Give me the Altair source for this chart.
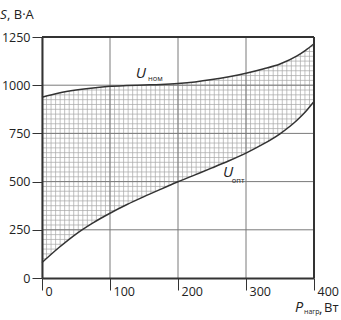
import altair as alt
import pandas as pd
import numpy as np

# ---- data ----
P_load = [0, 25, 50, 75, 100, 125, 150, 175, 200, 225, 250, 275, 300, 325, 350, 375, 387.5, 400]
U_nom = [938, 960, 975, 986, 994, 998, 1001, 1004, 1009, 1017, 1029, 1044, 1062, 1084, 1110, 1152, 1181, 1215]
U_opt = [80, 158, 228, 286, 336, 381, 422, 461, 499, 535, 571, 608, 648, 694, 748, 818, 862, 915]
x_ticks = [0, 100, 200, 300, 400]
y_ticks = [0, 250, 500, 750, 1000, 1250]

X_MAX, Y_MAX = 400, 1250
FONT = "Open Sans"
DARK = "#333333"

df = pd.DataFrame({"P": P_load, "nom": U_nom, "opt": U_opt})
df["top"] = Y_MAX
df["bottom"] = 0

xs = alt.Scale(domain=[0, X_MAX], nice=False, zero=False)
ys = alt.Scale(domain=[0, Y_MAX], nice=False, zero=False)

x_axis = alt.Axis(values=x_ticks, grid=False, title=None, tickSize=12, tickColor=DARK,
                  tickWidth=1, domainColor=DARK, domainWidth=2, labelAlign="left",
                  labelBaseline="top", labelOffset=3, labelPadding=-5, labelFlush=False,
                  labelOverlap=False, labelFont=FONT, labelFontSize=12.5, format="d",
                  labelColor="#222222", zindex=1)
y_axis = alt.Axis(values=y_ticks, grid=False, title=None, tickSize=10, tickColor=DARK,
                  tickWidth=1, domainColor=DARK, domainWidth=2, labelPadding=2,
                  labelFlush=False, labelOverlap=False, labelFont=FONT, format="d",
                  labelFontSize=12.5, labelColor="#222222", zindex=1)


def X(field):
    return alt.X(field, type="quantitative", scale=xs, axis=x_axis)


def Y(field):
    return alt.Y(field, type="quantitative", scale=ys, axis=y_axis)


# fine hatch grid (drawn everywhere, then masked outside the band)
vgrid = pd.DataFrame({"x": np.linspace(0, X_MAX, 61)})
vgrid["y0"] = 0
vgrid["y1"] = Y_MAX
hgrid = pd.DataFrame({"y": np.arange(0, Y_MAX + 1, 25)})
hgrid["x0"] = 0
hgrid["x1"] = X_MAX

HATCH = "#a6a6a6"
hatch_v = alt.Chart(vgrid).mark_rule(color=HATCH, strokeWidth=0.7).encode(
    x=X("x"), y=Y("y0"), y2="y1")
hatch_h = alt.Chart(hgrid).mark_rule(color=HATCH, strokeWidth=0.7).encode(
    y=Y("y"), x=X("x0"), x2="x1")

mask_top = alt.Chart(df).mark_area(color="white", interpolate="monotone", opacity=1).encode(
    x=X("P"), y=Y("nom"), y2="top")
mask_bot = alt.Chart(df).mark_area(color="white", interpolate="monotone", opacity=1).encode(
    x=X("P"), y=Y("bottom"), y2="opt")

# major grid
mgx = pd.DataFrame({"x": x_ticks[1:-1]})
mgx["y0"] = 0
mgx["y1"] = Y_MAX
mgy = pd.DataFrame({"y": y_ticks[1:-1]})
mgy["x0"] = 0
mgy["x1"] = X_MAX
major_v = alt.Chart(mgx).mark_rule(color="#7a7a7a", strokeWidth=1).encode(
    x=X("x"), y=Y("y0"), y2="y1")
major_h = alt.Chart(mgy).mark_rule(color="#7a7a7a", strokeWidth=1).encode(
    y=Y("y"), x=X("x0"), x2="x1")

# frame top / right
frame_top = alt.Chart(pd.DataFrame({"y": [Y_MAX], "x0": [0], "x1": [X_MAX]})).mark_rule(
    color=DARK, strokeWidth=2).encode(y=Y("y"), x=X("x0"), x2="x1")
frame_right = alt.Chart(pd.DataFrame({"x": [X_MAX], "y0": [0], "y1": [Y_MAX]})).mark_rule(
    color=DARK, strokeWidth=2).encode(x=X("x"), y=Y("y0"), y2="y1")

line_nom = alt.Chart(df).mark_line(color=DARK, strokeWidth=1.5, interpolate="monotone").encode(
    x=X("P"), y=Y("nom"))
line_opt = alt.Chart(df).mark_line(color=DARK, strokeWidth=1.5, interpolate="monotone").encode(
    x=X("P"), y=Y("opt"))

# curve labels
lab = pd.DataFrame({
    "x": [138, 156, 266, 279],
    "y": [1037, 1022, 524, 493],
    "t": ["U", "ном", "U", "опт"],
})
labels_big = alt.Chart(lab[lab["t"] == "U"]).mark_text(
    align="left", baseline="alphabetic", font=FONT, fontSize=15, fontStyle="italic",
    color="#222222").encode(x=X("x"), y=Y("y"), text="t")
labels_small = alt.Chart(lab[lab["t"] != "U"]).mark_text(
    align="left", baseline="alphabetic", font=FONT, fontSize=7.5,
    color="#222222").encode(x=X("x"), y=Y("y"), text="t")


def txt(s, x, y, size, style="normal"):
    return alt.Chart(pd.DataFrame({"t": [s]})).mark_text(
        align="left", baseline="alphabetic", font=FONT, fontSize=size,
        fontStyle=style, color="#222222").encode(
        x=alt.value(x), y=alt.value(y), text="t")


titles = [
    txt("S", -42, -18, 13.5, "italic"),
    txt(", В·А", -35, -18, 13),
    txt("P", 253, 275, 14.5, "italic"),
    txt("нагр", 262, 277, 7),
    txt(",", 277, 276, 13),
    txt("Вт", 282, 275, 13),
]

chart = alt.layer(
    hatch_v, hatch_h, mask_top, mask_bot, major_v, major_h,
    line_nom, line_opt, frame_top, frame_right, labels_big, labels_small, *titles
).properties(
    width=272, height=241,
    autosize=alt.AutoSizeParams(type="none"),
    padding={"left": 42, "top": 37, "right": 27, "bottom": 42},
).configure_view(strokeWidth=0)

chart.save("out.html", embed_options={"renderer": "svg", "actions": False})
